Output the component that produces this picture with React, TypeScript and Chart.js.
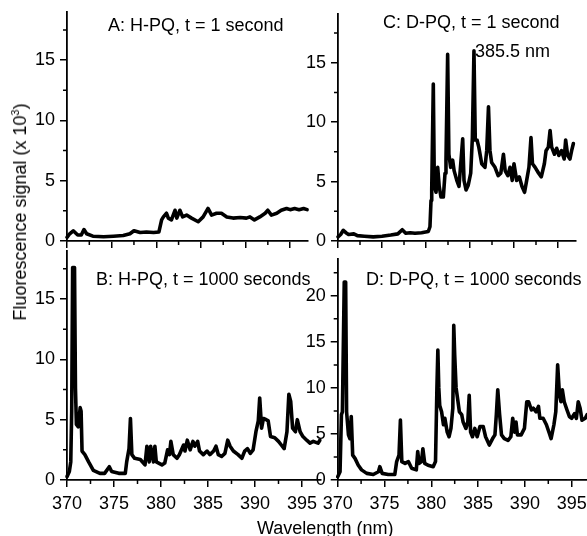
import React, { useEffect, useRef } from 'react';
import { Chart, registerables } from 'chart.js';

Chart.register(...registerables);

const FONT = '"Liberation Sans", Arial, Helvetica, sans-serif';
const FS = 18;

// Panel A: H-PQ, t = 1 s
const A_WL = [370, 370.3, 370.7, 371.2, 371.6, 371.9, 372.2, 372.9, 374.1, 375.2, 376.3, 377.05, 377.5, 378.2, 378.9, 379.7, 380.3, 380.6, 380.8, 381.15, 381.35, 381.7, 382.1, 382.3, 382.65, 382.95, 383.4, 383.95, 384.7, 385.25, 385.8, 386.2, 386.75, 387.3, 387.9, 388.6, 389.4, 390.1, 390.5, 391.0, 391.6, 392.2, 392.5, 392.9, 393.5, 394.0, 394.6, 395.0, 395.5, 396.0, 396.5, 396.9];
const A_SIG = [0.3, 0.6, 0.85, 0.5, 0.5, 0.95, 0.6, 0.4, 0.35, 0.4, 0.45, 0.6, 0.85, 0.7, 0.75, 0.7, 0.75, 1.75, 2.0, 2.3, 1.9, 1.75, 2.55, 1.9, 2.55, 2.0, 2.15, 1.9, 1.6, 2.0, 2.7, 2.15, 2.3, 2.3, 2.0, 1.9, 1.95, 1.9, 2.0, 1.75, 2.0, 2.3, 2.55, 2.15, 2.3, 2.55, 2.7, 2.6, 2.7, 2.6, 2.7, 2.6];

// Panel C: D-PQ, t = 1 s
const C_WL = [370.0, 370.3, 370.6, 370.9, 371.2, 371.8, 372.2, 373, 374, 375, 376, 376.8, 377.3, 377.7, 378.2, 378.75, 379.5, 380.26, 380.45, 380.57, 380.65, 380.83, 380.95, 381.14, 381.33, 381.5, 381.7, 381.97, 382.16, 382.27, 382.46, 382.6, 382.8, 383.03, 383.2, 383.5, 383.75, 383.98, 384.17, 384.32, 384.55, 384.8, 385.08, 385.27, 385.45, 385.6, 385.8, 386.0, 386.33, 386.7, 386.9, 387.1, 387.27, 387.46, 387.84, 388.2, 388.5, 388.8, 389.0, 389.3, 389.55, 389.8, 390.0, 390.3, 390.6, 390.9, 391.2, 391.44, 391.7, 391.93, 392.1, 392.4, 392.8, 393.1, 393.45, 393.64, 393.9, 394.1, 394.28, 394.6, 394.85, 395.1, 395.4, 395.7, 395.87, 396.1, 396.36, 396.55, 396.75];
const C_SIG = [0.35, 0.55, 0.9, 0.7, 0.55, 0.6, 0.45, 0.4, 0.35, 0.4, 0.5, 0.6, 0.95, 0.65, 0.7, 0.65, 0.7, 0.8, 1.2, 3.4, 4.3, 13.2, 4.6, 4.1, 6.2, 4.6, 3.7, 3.7, 5.7, 6.8, 15.7, 7.3, 6.2, 6.8, 5.9, 5.1, 4.6, 6.8, 8.6, 5.1, 4.3, 4.7, 5.7, 8.7, 16.0, 8.5, 8.5, 7.9, 6.5, 6.2, 7.6, 11.3, 7.6, 6.6, 6.2, 5.5, 5.7, 7.3, 5.9, 5.5, 6.2, 5.1, 6.5, 5.1, 5.4, 4.6, 4.1, 5.1, 6.2, 8.7, 6.5, 6.2, 5.7, 5.4, 6.5, 7.6, 7.9, 9.3, 7.9, 7.3, 7.8, 7.2, 7.6, 6.9, 8.5, 7.2, 6.9, 7.6, 8.2];

// Panel B: H-PQ, t = 1000 s
const B_WL = [370.0, 370.25, 370.4, 370.5, 370.6, 370.8, 370.9, 371.0, 371.2, 371.4, 371.5, 371.6, 371.9, 372.3, 372.8, 373.5, 374.0, 374.5, 374.75, 375.5, 376.2, 376.35, 376.6, 376.75, 376.9, 377.2, 377.8, 378.3, 378.5, 378.75, 378.9, 379.2, 379.35, 379.5, 380.1, 380.4, 380.7, 380.9, 381.05, 381.3, 381.7, 381.95, 382.4, 382.55, 382.8, 383.1, 383.4, 383.6, 383.9, 384.1, 384.5, 384.9, 385.2, 385.6, 385.85, 386.1, 386.45, 386.8, 387.1, 387.35, 387.7, 388.2, 388.6, 388.9, 389.2, 389.5, 389.8, 390.1, 390.35, 390.5, 390.7, 390.9, 391.2, 391.4, 391.65, 392.1, 392.5, 392.8, 393.1, 393.4, 393.6, 393.8, 394.0, 394.3, 394.5, 394.8, 395.1, 395.5, 395.85, 396.2, 396.7, 396.9];
const B_SIG = [0.28, 0.7, 1.5, 5.7, 17.6, 17.6, 7.6, 4.6, 4.4, 6.0, 5.7, 2.4, 2.1, 1.5, 0.8, 0.55, 0.55, 1.1, 0.7, 0.55, 0.55, 1.5, 2.6, 5.1, 2.1, 1.8, 1.7, 1.25, 2.8, 1.5, 2.8, 1.5, 2.8, 1.5, 1.25, 1.4, 2.5, 2.1, 3.2, 2.1, 1.8, 2.1, 2.9, 2.4, 3.3, 2.5, 3.2, 2.8, 3.2, 2.4, 2.1, 2.4, 2.1, 2.4, 2.8, 2.1, 1.95, 2.2, 3.3, 2.8, 2.4, 2.1, 1.8, 2.4, 2.6, 2.2, 2.5, 4.0, 4.9, 6.8, 4.3, 5.1, 5.0, 4.9, 3.6, 3.5, 3.2, 2.9, 2.6, 4.0, 7.1, 6.5, 4.3, 4.0, 5.0, 4.0, 3.6, 3.3, 3.05, 3.2, 3.05, 3.3];

// Panel D: D-PQ, t = 1000 s
const D_WL = [370.0, 370.25, 370.4, 370.5, 370.7, 370.85, 370.95, 371.15, 371.3, 371.45, 371.6, 371.85, 372.2, 372.55, 373.1, 373.8, 374.35, 374.5, 374.75, 375.4, 376.1, 376.3, 376.55, 376.7, 376.85, 377.2, 377.55, 377.9, 378.4, 378.55, 378.7, 378.95, 379.1, 379.3, 379.65, 380.2, 380.45, 380.6, 380.7, 380.8, 380.9, 381.1, 381.3, 381.45, 381.7, 381.9, 382.1, 382.3, 382.4, 382.5, 382.65, 382.8, 383.0, 383.25, 383.4, 383.7, 383.9, 384.05, 384.2, 384.4, 384.65, 384.9, 385.2, 385.55, 385.8, 386.2, 386.55, 386.8, 386.95, 387.1, 387.3, 387.5, 387.8, 388.2, 388.5, 388.7, 388.9, 389.05, 389.2, 389.6, 389.95, 390.2, 390.4, 390.7, 390.9, 391.2, 391.45, 391.6, 391.95, 392.3, 392.6, 392.8, 393.1, 393.3, 393.5, 393.7, 393.85, 394.0, 394.2, 394.5, 394.75, 395.0, 395.3, 395.5, 395.7, 395.9, 396.1, 396.45, 396.65];
const D_SIG = [0.36, 0.9, 7.1, 7.4, 21.5, 21.5, 7.4, 4.9, 4.5, 6.9, 2.7, 2.35, 1.6, 1.1, 0.72, 0.6, 0.9, 1.45, 0.72, 0.6, 0.6, 2.0, 2.7, 6.5, 2.0, 1.8, 2.0, 1.27, 1.1, 3.1, 1.8, 2.0, 3.4, 1.8, 1.6, 1.45, 2.0, 10.0, 14.1, 10.0, 8.1, 7.4, 6.0, 6.7, 5.2, 4.7, 5.6, 7.8, 16.8, 13.6, 10.0, 8.9, 7.4, 7.1, 6.3, 5.6, 6.3, 9.2, 5.2, 4.7, 5.6, 4.7, 5.8, 5.8, 4.7, 3.8, 4.5, 4.9, 7.1, 9.8, 7.1, 4.9, 4.5, 4.3, 4.7, 6.7, 5.2, 6.3, 4.9, 4.9, 5.6, 8.5, 8.5, 7.6, 7.8, 7.4, 8.0, 6.7, 6.7, 6.0, 5.1, 4.5, 6.0, 7.4, 12.5, 9.2, 8.5, 9.8, 8.5, 7.6, 6.9, 6.7, 7.2, 6.7, 8.5, 7.8, 6.5, 6.7, 7.1];

const X_MIN = 370;
const X_STEP = 5;
const Y_STEP = 5;

const minorTicks = {
  id: 'minorTicks',
  afterDraw(chart: any) {
    const { ctx, chartArea, scales } = chart;
    const xs = scales.x;
    const ys = scales.y;
    ctx.save();
    ctx.strokeStyle = '#000';
    ctx.lineWidth = 1.5;
    ctx.beginPath();
    for (let v = xs.min + X_STEP / 2; v < xs.max; v += X_STEP) {
      const px = xs.getPixelForValue(v);
      ctx.moveTo(px, chartArea.bottom);
      ctx.lineTo(px, chartArea.bottom + 4);
    }
    for (let v = Y_STEP / 2; v < ys.max; v += Y_STEP) {
      const py = ys.getPixelForValue(v);
      ctx.moveTo(chartArea.left, py);
      ctx.lineTo(chartArea.left - 4, py);
    }
    ctx.stroke();
    ctx.restore();
  },
};

type PanelProps = {
  wl: number[];
  sig: number[];
  xMax: number;
  yMax: number;
  left: number;
  top: number;
  w: number;
  h: number;
  yAxisW: number;
  xAxisH: number;
  padTop: number;
  padRight: number;
  xLabels: boolean;
};

function Panel(p: PanelProps) {
  const ref = useRef<HTMLCanvasElement>(null);
  useEffect(() => {
    const tickFont = { family: FONT, size: FS };
    const chart = new Chart(ref.current as HTMLCanvasElement, {
      type: 'line',
      data: {
        datasets: [
          {
            data: p.wl.map((x, i) => ({ x, y: p.sig[i] })),
            borderColor: '#000',
            borderWidth: 3.6,
            pointRadius: 0,
            tension: 0,
            fill: false,
            borderJoinStyle: 'round',
            borderCapStyle: 'round',
            clip: 6,
          } as any,
        ],
      },
      options: {
        animation: false,
        responsive: false,
        maintainAspectRatio: false,
        events: [],
        layout: { padding: { top: p.padTop, right: p.padRight, left: 0, bottom: 0 } },
        plugins: { legend: { display: false }, tooltip: { enabled: false } },
        scales: {
          x: {
            type: 'linear',
            min: X_MIN,
            max: p.xMax,
            afterFit: (s: any) => {
              s.height = p.xAxisH;
              s.paddingLeft = 0;
              s.paddingRight = 0;
            },
            grid: {
              display: true,
              drawOnChartArea: false,
              drawTicks: true,
              tickLength: 7,
              color: '#000',
              tickColor: '#000',
              lineWidth: 1.5,
              tickWidth: 1.5,
            },
            border: { display: true, color: '#000', width: 1.8 },
            ticks: {
              stepSize: X_STEP,
              includeBounds: false,
              autoSkip: false,
              maxRotation: 0,
              minRotation: 0,
              display: p.xLabels,
              color: '#000',
              font: tickFont,
              padding: 6,
            },
          },
          y: {
            type: 'linear',
            min: 0,
            max: p.yMax,
            afterFit: (s: any) => {
              s.width = p.yAxisW;
              s.paddingTop = 0;
              s.paddingBottom = 0;
            },
            grid: {
              display: true,
              drawOnChartArea: false,
              drawTicks: true,
              tickLength: 7,
              color: '#000',
              tickColor: '#000',
              lineWidth: 1.5,
              tickWidth: 1.5,
            },
            border: { display: true, color: '#000', width: 1.8 },
            ticks: {
              stepSize: Y_STEP,
              includeBounds: false,
              autoSkip: false,
              color: '#000',
              font: tickFont,
              padding: 5,
            },
          },
        },
      } as any,
      plugins: [minorTicks],
    });
    return () => chart.destroy();
  }, []);
  return (
    <canvas
      ref={ref}
      width={p.w}
      height={p.h}
      style={{ position: 'absolute', left: p.left, top: p.top, width: p.w, height: p.h }}
    />
  );
}

const textStyle = (left: number, top: number): React.CSSProperties => ({
  position: 'absolute',
  left,
  top,
  fontFamily: FONT,
  fontSize: FS,
  lineHeight: 1,
  whiteSpace: 'nowrap',
  color: '#000',
});

export default function App() {
  return (
    <div
      style={{
        position: 'absolute',
        left: 0,
        top: 0,
        width: 587,
        height: 536,
        overflow: 'hidden',
        background: '#fff',
      }}
    >
      <Panel wl={A_WL} sig={A_SIG} xMax={397} yMax={19} left={17} top={0} w={300} h={252} yAxisW={50} xAxisH={11} padTop={12} padRight={9} xLabels={false} />
      <Panel wl={C_WL} sig={C_SIG} xMax={397} yMax={19.1} left={290} top={0} w={297} h={252} yAxisW={48} xAxisH={11} padTop={14} padRight={11.4} xLabels={false} />
      <Panel wl={B_WL} sig={B_SIG} xMax={397} yMax={19} left={17} top={245} w={310} h={280} yAxisW={50} xAxisH={45} padTop={5.7} padRight={6.2} xLabels={true} />
      <Panel wl={D_WL} sig={D_SIG} xMax={396.7} yMax={24} left={290} top={250} w={300} h={275} yAxisW={47.7} xAxisH={45} padTop={9} padRight={2.4} xLabels={true} />

      <div style={textStyle(108, 16.2)}>A: H-PQ, t = 1 second</div>
      <div style={textStyle(383, 13.2)}>C: D-PQ, t = 1 second</div>
      <div style={textStyle(475, 42.2)}>385.5 nm</div>
      <div style={textStyle(96, 270.2)}>B: H-PQ, t = 1000 seconds</div>
      <div style={textStyle(366, 270.2)}>D: D-PQ, t = 1000 seconds</div>
      <div style={textStyle(257, 518.5)}>Wavelength (nm)</div>
      <div
        style={{
          ...textStyle(20, 212),
          transform: 'translate(-50%, -50%) rotate(-90deg)',
        }}
      >
        Fluorescence signal (x 10<sup style={{ fontSize: '0.6em', verticalAlign: 'super', lineHeight: 0 }}>3</sup>)
      </div>
    </div>
  );
}
